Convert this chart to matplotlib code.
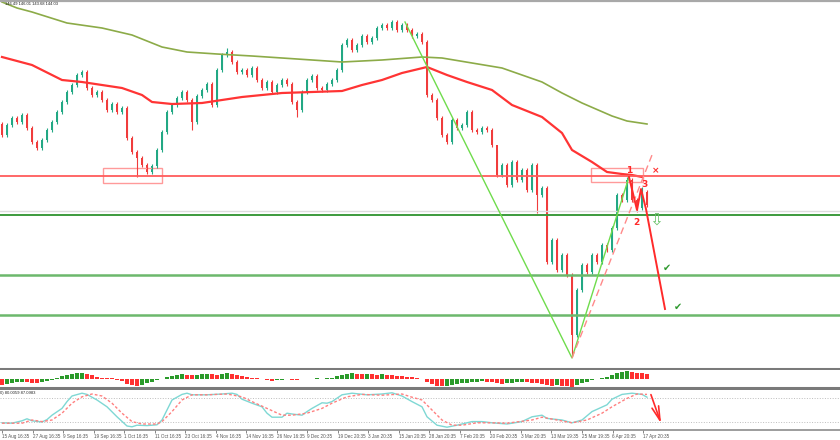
import numpy as np
import matplotlib
matplotlib.use('Agg')
from matplotlib import pyplot as plt
from matplotlib.patches import Rectangle

plt.rcParams['font.family'] = ['Liberation Sans', 'DejaVu Sans']

# closing prices, one per candle (open = previous close)
first_open = 148.9
closes = [148.625, 148.875, 149.05, 148.95, 149.125, 148.8, 148.45, 148.3, 148.5, 148.75,
          148.95, 149.2, 149.45, 149.7, 149.875, 150.125, 150.2, 149.8, 149.625, 149.7,
          149.5, 149.25, 149.4, 149.2, 149.3, 148.55, 148.2, 148.05, 147.875, 147.7,
          147.85, 148.25, 148.7, 149.2, 149.375, 149.55, 149.7, 149.5, 148.95, 149.6,
          149.75, 149.9, 149.375, 150.25, 150.625, 150.7, 150.45, 150.2, 150.25, 150.125,
          150.3, 150.0, 149.8, 149.95, 149.7, 149.875, 150.0, 149.9, 149.45, 149.25,
          149.7, 150.0, 150.1, 149.8, 149.75, 149.9, 150.0, 150.25, 150.875, 151.0,
          150.75, 150.875, 151.1, 150.95, 151.05, 151.3, 151.375, 151.3, 151.45, 151.25,
          151.375, 151.25, 151.1, 151.15, 150.95, 149.625, 149.5, 149.05, 148.625, 148.45,
          149.0, 148.8, 148.875, 149.2, 148.75, 148.7, 148.8, 148.75, 148.375, 147.625,
          147.875, 147.375, 147.95, 147.5, 147.75, 147.25, 147.875, 147.125, 147.3, 145.45,
          146.0, 145.25, 145.625, 145.125, 143.625, 144.75, 145.375, 145.2, 145.625, 145.45,
          145.875, 145.75, 146.3, 147.125, 147.0, 147.5, 147.0, 146.8, 147.2, 146.875]
# long shadows: candle -> high / low
wick_high = {45: 150.8, 99: 148.25, 125: 147.575, 128: 147.325}
wick_low = {27: 147.575, 38: 148.75, 59: 149.075, 107: 146.675, 114: 143.075, 127: 146.7}
wick = 0.06

# moving averages (read at some candles)
ma_red_idx = [0, 6, 12, 16, 20, 24, 28, 30, 34, 40, 44, 48, 56, 68, 72, 76, 80, 85, 89, 93,
              98, 102, 108, 112, 114, 118, 121, 124, 126, 128]
ma_red = [150.575, 150.375, 150.0, 149.95, 149.875, 149.8, 149.625, 149.45, 149.4, 149.425,
          149.5, 149.575, 149.675, 149.725, 149.875, 150.0, 150.175, 150.325, 150.125, 149.95,
          149.75, 149.375, 149.075, 148.675, 148.25, 147.95, 147.7, 147.65, 147.625, 147.575]
ma_olive_idx = [0, 3, 6, 13, 20, 26, 32, 37, 43, 50, 56, 68, 76, 84, 88, 100, 108, 112, 116,
                122, 125, 129]
ma_olive = [151.95, 151.8, 151.7, 151.425, 151.3, 151.125, 150.825, 150.7, 150.65, 150.6,
            150.55, 150.45, 150.5, 150.575, 150.55, 150.3, 149.95, 149.675, 149.425, 149.1,
            148.975, 148.9]

# horizontal levels
red_level = 147.6
grey_level = 146.725
green_levels = [146.625, 145.125, 144.125]

# zones (start, end, low, high)
zones = [(20.2, 32.0, 147.425, 147.8), (117.8, 128.2, 147.45, 147.8)]

# drawn analysis lines
zigzag_idx = [80.6, 114, 125.4]
zigzag_p = [151.45, 143.05, 147.575]
dash_idx = [114, 130]
dash_p = [143.05, 148.125]
proj_idx = [125.4, 127, 127.8, 128.8, 132.6]
proj_p = [147.575, 146.75, 147.275, 146.775, 144.275]

# OsMA histogram
hist = [-0.06, -0.055, -0.045, -0.035, -0.03, -0.034, -0.04, -0.042, -0.03, -0.02,
        -0.01, 0.01, 0.025, 0.035, 0.045, 0.055, 0.06, 0.05, 0.035, 0.02,
        0.01, 0.005, 0.002, -0.01, -0.025, -0.05, -0.065, -0.07, -0.06, -0.045,
        -0.03, -0.01, 0.0, 0.015, 0.03, 0.04, 0.045, 0.04, 0.035, 0.04,
        0.045, 0.05, 0.045, 0.04, 0.05, 0.055, 0.05, 0.04, 0.03, 0.02,
        0.01, 0.005, 0.0, -0.01, -0.02, -0.015, -0.01, -0.005, -0.01, -0.012,
        -0.005, -0.002, 0.0, 0.003, 0.0, 0.005, 0.01, 0.025, 0.04, 0.05,
        0.055, 0.05, 0.045, 0.05, 0.045, 0.04, 0.045, 0.04, 0.035, 0.03,
        0.025, 0.02, 0.015, 0.01, -0.005, -0.03, -0.055, -0.07, -0.075, -0.07,
        -0.06, -0.05, -0.045, -0.04, -0.035, -0.03, -0.028, -0.03, -0.035, -0.045,
        -0.05, -0.045, -0.04, -0.035, -0.03, -0.035, -0.04, -0.045, -0.05, -0.065,
        -0.07, -0.068, -0.072, -0.075, -0.08, -0.065, -0.045, -0.03, -0.015, -0.005,
        0.005, 0.02, 0.04, 0.06, 0.07, 0.072, 0.065, 0.06, 0.055, 0.05]

# stochastic
stoch_main_idx = [0, 2, 4, 5, 6, 8, 9, 10, 12, 13, 14, 16, 17, 19, 21, 23, 25, 26, 27, 29,
                  31, 32, 33, 34, 36, 37, 38, 41, 44, 46, 47, 48, 50, 52, 53, 54, 56, 57, 58, 60,
                  61, 62, 64, 65, 66, 68, 70, 73, 76, 78, 80, 82, 84, 85, 87, 89, 91, 94, 96, 98,
                  101, 104, 106, 108, 109, 112, 114, 116, 118, 121, 122, 124, 126, 128, 129]
stoch_main = [18, 17, 23, 28, 23, 20, 26, 37, 54, 71, 85, 92, 89, 75, 58, 33, 10, 8, 12, 11,
              13, 25, 50, 75, 89, 92, 88, 88, 90, 92, 89, 77, 67, 58, 42, 32, 32, 42, 40, 37,
              46, 54, 68, 67, 71, 88, 92, 88, 90, 93, 85, 71, 58, 33, 12, 7, 12, 21, 21, 18,
              15, 21, 33, 37, 29, 25, 18, 25, 46, 63, 77, 89, 92, 89, 82]
stoch_sig_idx = [0, 4, 6, 8, 10, 12, 14, 16, 18, 20, 22, 24, 26, 28, 31, 32, 34, 36, 38, 41,
                 45, 48, 50, 53, 56, 58, 61, 64, 66, 69, 72, 76, 80, 82, 84, 86, 88, 90, 92, 95,
                 98, 101, 106, 108, 111, 114, 117, 120, 122, 125, 127, 129]
stoch_sig = [17, 17, 25, 21, 25, 42, 67, 83, 90, 85, 67, 42, 21, 15, 15, 21, 46, 75, 88, 88,
             90, 83, 71, 54, 37, 37, 42, 54, 67, 83, 89, 87, 90, 82, 75, 50, 25, 12, 12, 18,
             18, 17, 25, 32, 25, 18, 25, 42, 58, 79, 90, 89]

date_labels = ['15 Aug 16:35', '27 Aug 16:35', '9 Sep 16:35', '19 Sep 16:35', '1 Oct 16:35',
               '11 Oct 16:35', '23 Oct 16:35', '4 Nov 16:35', '14 Nov 16:35', '26 Nov 16:35',
               '9 Dec 20:35', '19 Dec 20:35', '3 Jan 20:35', '15 Jan 20:35', '28 Jan 20:35',
               '7 Feb 20:35', '20 Feb 20:35', '3 Mar 20:35', '13 Mar 19:35', '25 Mar 19:35',
               '6 Apr 20:35', '17 Apr 20:35']

bull = '#22a884'
bear = '#f03c3c'
H = 440.0

fig = plt.figure(figsize=(8.4, 4.4), dpi=100)
ax = fig.add_axes([0, (H - 369) / H, 1, 368 / H])
ax_h = fig.add_axes([0, (H - 388) / H, 1, 18 / H])
ax_s = fig.add_axes([0, (H - 430) / H, 1, 40 / H])

xlim = (-0.4, 167.6)

# candles
n = len(closes)
idx = np.arange(n)
c = np.array(closes)
o = np.concatenate([[first_open], c[:-1]])
hi = np.maximum(o, c) + wick
lo = np.minimum(o, c) - wick
for k, v in wick_high.items():
    hi[k] = v
for k, v in wick_low.items():
    lo[k] = v
cols = [bull if c[i] >= o[i] else bear for i in range(n)]
ax.vlines(idx, lo, hi, colors=cols, lw=0.8)
ax.bar(idx, np.maximum(np.abs(c - o), 0.012), bottom=np.minimum(o, c), width=0.55, color=cols)

ax.plot(ma_olive_idx, ma_olive, color='#8cab48', lw=1.2, solid_joinstyle='round')
ax.plot(ma_red_idx, ma_red, color='#ff3434', lw=1.6, solid_joinstyle='round')

ax.axhline(red_level, color='#ff5c5c', lw=1.3)
ax.axhline(grey_level, color='#dcdcdc', lw=1)
ax.axhline(green_levels[0], color='#3d9a3d', lw=1.4)
for lv in green_levels[1:]:
    ax.axhline(lv, color='#6cb86c', lw=1.8)

for x0, x1, y0, y1 in zones:
    ax.add_patch(Rectangle((x0, y0), x1 - x0, y1 - y0, fill=False, ec='#ff9a9a', lw=1))

ax.plot(zigzag_idx, zigzag_p, color='#6fdc4c', lw=1)
ax.plot(dash_idx, dash_p, color='#ff8a8a', lw=1, ls=(0, (5, 3)))
ax.plot(proj_idx, proj_p, color='#ff2a2a', lw=1.4)

red_txt = dict(color='#ff2a2a', fontsize=6.5, fontweight='bold', ha='center', va='center',
               family='DejaVu Sans')
ax.text(125.4, 147.75, '1', **red_txt)
ax.text(126.8, 146.45, '2', **red_txt)
ax.text(128.4, 147.4, '3', **red_txt)
ax.text(130.8, 147.725, '×', **red_txt)
ax.text(130.8, 146.5, '⇩', color='#6cc36c', fontsize=12, ha='center', va='center',
        family='DejaVu Sans')
ax.text(133.0, 145.3, '✔', color='#2f9a2f', fontsize=7, ha='center', va='center',
        family='DejaVu Sans')
ax.text(135.2, 144.325, '✔', color='#2f9a2f', fontsize=7, ha='center', va='center',
        family='DejaVu Sans')

ax.set_xlim(*xlim)
ax.set_ylim(142.775, 151.975)
ax.set_xticks([])
ax.set_yticks([])
for s in ['left', 'right']:
    ax.spines[s].set_visible(False)
ax.spines['top'].set_color('#a8a8a8')
ax.spines['top'].set_linewidth(1.6)
ax.spines['bottom'].set_color('#7a7a7a')
ax.spines['bottom'].set_linewidth(2.2)

# histogram
hv = np.array(hist)
hcols = ['#2a9a2a' if i > 0 and hv[i] > hv[i - 1] else '#ff3030' for i in range(n)]
ax_h.bar(idx, hv, width=0.9, color=hcols)
ax_h.set_xlim(*xlim)
ax_h.set_ylim(-0.095, 0.085)
ax_h.set_xticks([])
ax_h.set_yticks([])
for s in ['left', 'right', 'top']:
    ax_h.spines[s].set_visible(False)
ax_h.spines['bottom'].set_color('#7a7a7a')
ax_h.spines['bottom'].set_linewidth(2.2)

# stochastic
ax_s.axhline(80, color='#bdbdbd', lw=0.7, ls=':')
ax_s.axhline(20, color='#bdbdbd', lw=0.7, ls=':')
ax_s.plot(stoch_main_idx, stoch_main, color='#7fd8d4', lw=1)
ax_s.plot(stoch_sig_idx, stoch_sig, color='#ff8080', lw=1, ls=(0, (2, 1.5)))
ax_s.annotate('', xy=(132.0, 10), xytext=(129.6, 95),
              arrowprops=dict(arrowstyle='->,head_length=1.0,head_width=0.25', color='#ff2a2a', lw=1.2),
              annotation_clip=False)
ax_s.set_xlim(*xlim)
ax_s.set_ylim(0, 100)
ax_s.set_yticks([])
tick_pos = np.arange(len(date_labels)) * 6.105
ax_s.set_xticks(tick_pos)
ax_s.set_xticklabels(date_labels, fontsize=3.3, ha='left', color='#333333')
ax_s.tick_params(axis='x', length=2, width=0.5, pad=1, colors='#555555')
for s in ['left', 'right', 'top']:
    ax_s.spines[s].set_visible(False)
ax_s.spines['bottom'].set_color('#8c8c8c')
ax_s.spines['bottom'].set_linewidth(1.2)

fig.text(5 / 840, 1 - 4 / H, '146.49 146.01 143.68 144.03', fontsize=3, va='center', color='#222222')
fig.text(0.5 / 840, 1 - 393 / H, '0) 80.0059 87.0983', fontsize=3, va='center', color='#222222')

fig.savefig('out.png', dpi=100)
